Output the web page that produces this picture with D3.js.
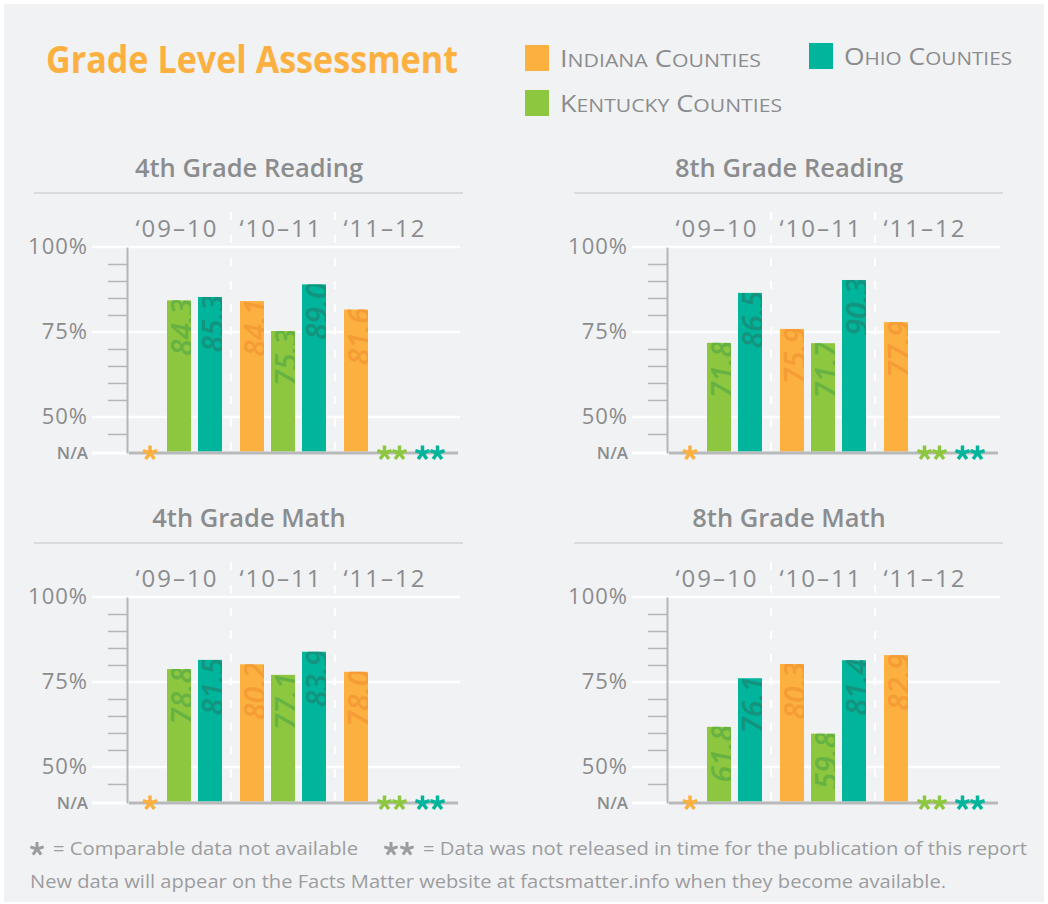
<!DOCTYPE html>
<html>
<head>
<meta charset="utf-8">
<script src="https://cdn.jsdelivr.net/npm/d3@7"></script>
<style>
  body { margin: 0; background: #fff; }
  text { font-family: "Open Sans", "DejaVu Sans", sans-serif; }
</style>
</head>
<body>
<div id="chart"></div>
<script>
// --- data ---
const groups = ["‘09–10", "‘10–11", "‘11–12"];
const seriesNames = ["Indiana Counties", "Kentucky Counties", "Ohio Counties"];
const panelTitles = ["4th Grade Reading", "8th Grade Reading", "4th Grade Math", "8th Grade Math"];

// one row per panel, one value per school year (null = not available)
const indiana  = [[null, 84.1, 81.6], [null, 75.9, 77.9], [null, 80.2, 78.0], [null, 80.3, 82.9]];
const kentucky = [[84.3, 75.3, null], [71.8, 71.7, null], [78.8, 77.1, null], [61.8, 59.8, null]];
const ohio     = [[85.3, 89.0, null], [86.5, 90.3, null], [81.5, 83.9, null], [76.1, 81.4, null]];
const naMarks  = ["*", "**", "**"];   // what is shown for a missing value, per series

const majorTicks = [50, 75, 100];
const minorTicks = [45, 55, 60, 65, 70, 80, 85, 90, 95];
const tickLabels = ["50%", "75%", "100%"];
const yFloor = 39.4; // value sitting on the N/A baseline

const footNote1 = "= Comparable data not available";
const footNote2 = "= Data was not released in time for the publication of this report";
const footNote3 = "New data will appear on the Facts Matter website at factsmatter.info when they become available.";

// --- styles ---
const colors = ["#fbb040", "#8dc63f", "#00b59b"];
const labelColors = ["#f59c36", "#66b243", "#14937e"];
const grey = "#8b8c8e";
const bg = "#f1f2f4";

const width = 1048, height = 904;
const svg = d3.select("#chart").append("svg")
    .attr("width", width)
    .attr("height", height);

svg.append("rect")
    .attr("x", 4).attr("y", 4)
    .attr("width", width - 8).attr("height", height - 6)
    .attr("fill", bg);

// 5 armed asterisk
function star(sel, cx, cy, r, color, sw) {
    const p = d3.path();
    for (let i = 0; i < 5; i++) {
        const a = -Math.PI / 2 + i * 2 * Math.PI / 5;
        p.moveTo(cx, cy);
        p.lineTo(cx + r * Math.cos(a), cy + r * Math.sin(a));
    }
    sel.append("path").attr("d", p.toString())
        .attr("stroke", color).attr("stroke-width", sw)
        .attr("fill", "none");
}

// --- title + legend ---
svg.append("text")
    .attr("x", 46).attr("y", 73)
    .attr("font-size", 38).attr("font-weight", 700)
    .attr("fill", "#fbb040")
    .attr("textLength", 412).attr("lengthAdjust", "spacingAndGlyphs")
    .text("Grade Level Assessment");

const legendPos = [[525, 45, 201], [525, 90, 222], [809, 43, 168]];
seriesNames.forEach((name, i) => {
    const [lx, ly, tw] = legendPos[i];
    const g = svg.append("g").attr("transform", `translate(${lx},${ly})`);
    g.append("rect").attr("width", 24).attr("height", 26).attr("fill", colors[i]);
    const t = g.append("text")
        .attr("x", 35).attr("y", 22)
        .attr("fill", grey)
        .attr("textLength", tw).attr("lengthAdjust", "spacingAndGlyphs");
    name.split(" ").forEach((w, k) => {
        t.append("tspan").attr("font-size", 23).text((k ? " " : "") + w[0]);
        t.append("tspan").attr("font-size", 18).text(w.slice(1).toUpperCase());
    });
});

// --- panels ---
const x0 = d3.scaleBand().domain(groups).range([127, 439]);
const x1 = d3.scaleBand().domain(seriesNames).range([9, 95]).paddingInner(0.226);
const baseY = 313;
const y = d3.scaleLinear().domain([yFloor, 100]).range([baseY, 107]);

const panelPos = [[0, 140], [540, 140], [0, 490], [540, 490]];
const seriesData = [indiana, kentucky, ohio];

panelTitles.forEach((title, p) => {
    const g = svg.append("g").attr("transform", `translate(${panelPos[p][0]},${panelPos[p][1]})`);

    g.append("text")
        .attr("x", 249).attr("y", 37)
        .attr("text-anchor", "middle")
        .attr("font-size", 25.5).attr("font-weight", 600)
        .attr("fill", grey)
        .text(title);

    g.append("line")
        .attr("x1", 34).attr("x2", 463)
        .attr("y1", 53).attr("y2", 53)
        .attr("stroke", "#c3c4c6").attr("stroke-width", 1);

    // white gridlines
    g.selectAll(".grid").data(majorTicks).enter().append("line")
        .attr("x1", 92).attr("x2", 460)
        .attr("y1", d => y(d)).attr("y2", d => y(d))
        .attr("stroke", "#fff").attr("stroke-width", 2.5);
    g.append("line")
        .attr("x1", 92).attr("x2", 128)
        .attr("y1", baseY).attr("y2", baseY)
        .attr("stroke", "#fff").attr("stroke-width", 3);

    // dashed year dividers
    g.selectAll(".div").data(groups.slice(1)).enter().append("line")
        .attr("x1", d => x0(d)).attr("x2", d => x0(d))
        .attr("y1", 72).attr("y2", baseY)
        .attr("stroke", "#fff").attr("stroke-width", 2)
        .attr("stroke-dasharray", "8,15");

    // year labels
    g.selectAll(".yr").data(groups).enter().append("text")
        .attr("x", d => x0(d) + x0.bandwidth() / 2 - 2)
        .attr("y", 97)
        .attr("text-anchor", "middle")
        .attr("font-size", 24)
        .attr("letter-spacing", 2)
        .attr("fill", grey)
        .text(d => d);

    // axis with minor ticks
    const axis = g.append("g")
        .attr("transform", "translate(127,0)")
        .call(d3.axisLeft(y).tickValues(minorTicks).tickSize(19).tickSizeOuter(0).tickFormat(""));
    axis.select(".domain").attr("stroke", "#b5b6b8").attr("stroke-width", 2);
    axis.selectAll(".tick line").attr("stroke", "#b5b6b8").attr("stroke-width", 1.5);

    g.selectAll(".ylab").data(majorTicks).enter().append("text")
        .attr("x", 88).attr("y", d => y(d) + 7)
        .attr("text-anchor", "end")
        .attr("font-size", 22)
        .attr("letter-spacing", 1)
        .attr("fill", grey)
        .text((d, i) => tickLabels[i]);
    g.append("text")
        .attr("x", 88).attr("y", baseY + 6)
        .attr("text-anchor", "end")
        .attr("font-size", 17).attr("font-weight", 600)
        .attr("fill", grey)
        .text("N/A");

    // bars
    const rows = [];
    groups.forEach((grp, gi) => {
        seriesNames.forEach((s, si) => {
            rows.push({ grp, s, si, v: seriesData[si][p][gi] });
        });
    });

    rows.filter(d => d.v !== null).forEach((d, k) => {
        const bx = x0(d.grp) + x1(d.s);
        const bw = x1.bandwidth();
        const id = `clip-${p}-${k}`;
        g.append("clipPath").attr("id", id).append("rect")
            .attr("x", bx).attr("y", y(d.v))
            .attr("width", bw).attr("height", baseY - y(d.v));
        g.append("rect")
            .attr("x", bx).attr("y", y(d.v))
            .attr("width", bw).attr("height", baseY - 1.5 - y(d.v))
            .attr("fill", colors[d.si]);
        g.append("g")
            .attr("clip-path", `url(#${id})`)
          .append("text")
            .attr("transform", `translate(${bx + bw + 2},${y(d.v) - 2}) rotate(-90)`)
            .attr("text-anchor", "end")
            .attr("font-size", 30).attr("font-weight", 600).attr("font-style", "italic")
            .attr("fill", labelColors[d.si])
            .text(d.v.toFixed(1));
    });

    // baseline
    g.append("line")
        .attr("x1", 129).attr("x2", 458)
        .attr("y1", baseY).attr("y2", baseY)
        .attr("stroke", "#b8b9bb").attr("stroke-width", 3);

    // not available markers
    rows.filter(d => d.v === null).forEach(d => {
        const cx = x0(d.grp) + x1(d.s) + x1.bandwidth() / 2;
        if (naMarks[d.si] === "*") {
            star(g, cx + 2, baseY, 7.5, colors[d.si], 3.5);
        } else {
            const c = cx + (d.si - 1) * 7 + 5;
            star(g, c - 7.5, baseY, 7.5, colors[d.si], 3.5);
            star(g, c + 7.5, baseY, 7.5, colors[d.si], 3.5);
        }
    });
});

// --- footer ---
const footGrey = "#9c9d9f";
star(svg, 37, 849, 7, footGrey, 3);
svg.append("text")
    .attr("x", 53).attr("y", 855)
    .attr("font-size", 19).attr("fill", footGrey)
    .attr("textLength", 305).attr("lengthAdjust", "spacingAndGlyphs")
    .text(footNote1);
star(svg, 391, 849, 7, footGrey, 3);
star(svg, 407, 849, 7, footGrey, 3);
svg.append("text")
    .attr("x", 423).attr("y", 855)
    .attr("font-size", 19).attr("fill", footGrey)
    .attr("textLength", 604).attr("lengthAdjust", "spacingAndGlyphs")
    .text(footNote2);
svg.append("text")
    .attr("x", 30).attr("y", 888)
    .attr("font-size", 19).attr("fill", footGrey)
    .attr("textLength", 916).attr("lengthAdjust", "spacingAndGlyphs")
    .text(footNote3);
</script>
</body>
</html>
